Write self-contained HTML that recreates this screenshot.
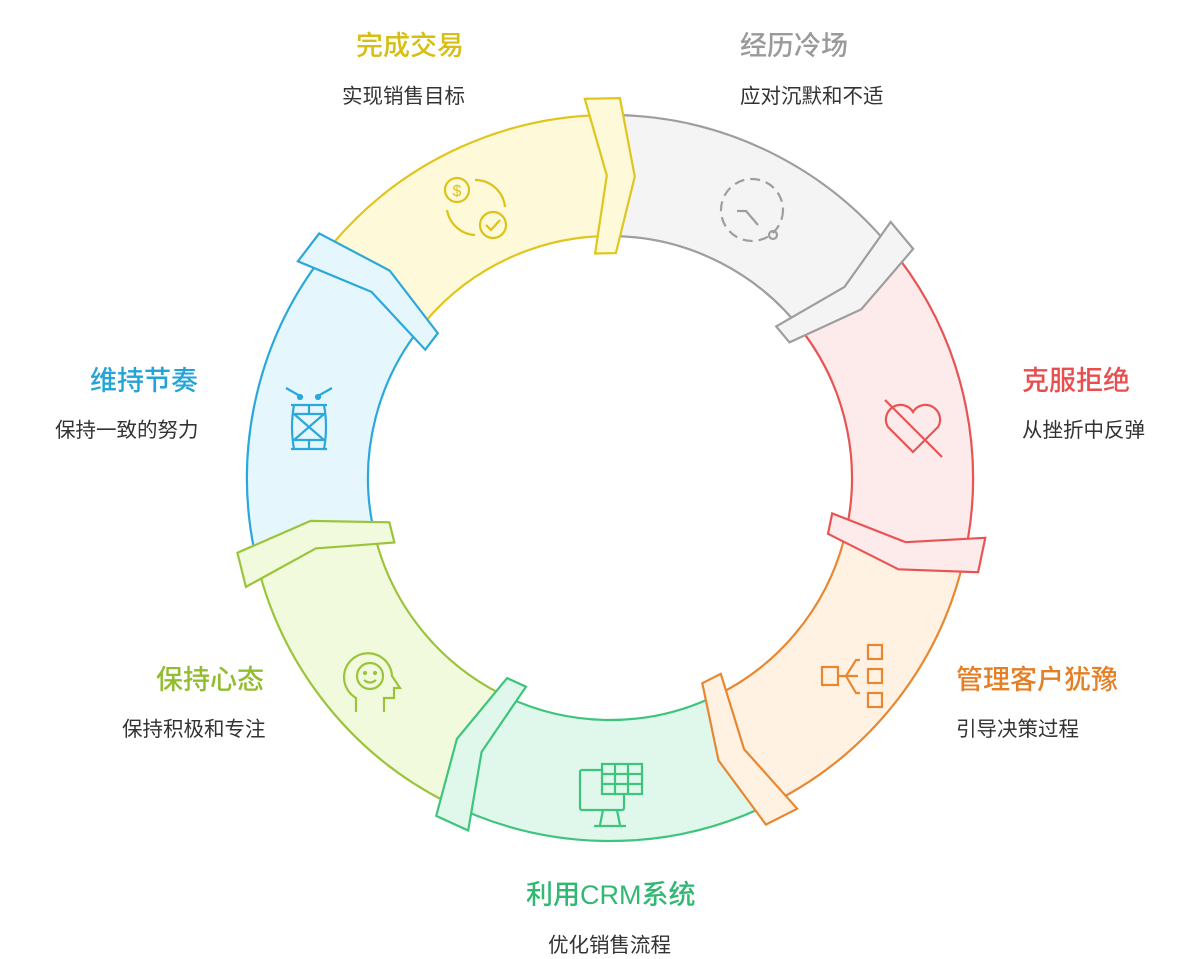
<!DOCTYPE html>
<html><head><meta charset="utf-8">
<style>
body{margin:0;background:#fff;width:1200px;height:959px;overflow:hidden;position:relative;font-family:"Liberation Sans","Noto Sans CJK SC",sans-serif}
.t{position:absolute;font-size:27px;font-weight:500;white-space:nowrap}
.s{position:absolute;font-size:20.5px;color:#333;white-space:nowrap}
svg{position:absolute;left:0;top:0}
</style></head><body>
<svg id="g" width="1200" height="959" viewBox="0 0 1200 959"></svg>
<div class="t" style="left:356px;top:24px;color:#d6bf12">完成交易</div>
<div class="s" style="left:342px;top:79px">实现销售目标</div>
<div class="t" style="left:740px;top:24px;color:#9a9a9a">经历冷场</div>
<div class="s" style="left:740px;top:79px">应对沉默和不适</div>
<div class="t" style="left:1022px;top:359px;color:#e84e4e">克服拒绝</div>
<div class="s" style="left:1022px;top:413px">从挫折中反弹</div>
<div class="t" style="left:956px;top:658px;color:#e57f25">管理客户犹豫</div>
<div class="s" style="left:956px;top:712px">引导决策过程</div>
<div class="t" style="left:526px;top:873px;color:#33b873">利用CRM系统</div>
<div class="s" style="left:548px;top:928px">优化销售流程</div>
<div class="t" style="left:156px;top:658px;color:#93bd30">保持心态</div>
<div class="s" style="left:122px;top:712px">保持积极和专注</div>
<div class="t" style="left:90px;top:359px;color:#23a3d8">维持节奏</div>
<div class="s" style="left:55px;top:413px">保持一致的努力</div>
<script>
var cx=610,cy=478,R=363,r=242;
var segs=[["#f4f4f4","#9e9e9e"],["#fdeaea","#e85454"],["#fff2e3","#e8872f"],["#e0f8ec","#3ec47c"],["#f1fadc","#9bc43c"],["#e6f6fd","#2aa8dc"],["#fef9d9","#e0c51c"]];
var b0=-88.5,step=360/7;
function P(rad,a){a=a*Math.PI/180;return [(cx+rad*Math.cos(a)).toFixed(1),(cy+rad*Math.sin(a)).toFixed(1)];}
var s="";
for(var i=0;i<7;i++){
 var a1=b0+i*step,a2=a1+step;
 var o1=P(R,a1),o2=P(R,a2),i1=P(r,a1),i2=P(r,a2);
 s+='<path d="M'+o1+' A'+R+' '+R+' 0 0 1 '+o2+' L'+i2+' A'+r+' '+r+' 0 0 0 '+i1+' Z" fill="'+segs[i][0]+'" stroke="'+segs[i][1]+'" stroke-width="2.2"/>';
}
for(var i=0;i<7;i++){
 var a=b0+i*step, c=segs[(i+6)%7];
 var d=5.3,bend=3.2,Ro=R+17,Ri=r-17,Rm=(R+r)/2;
 var pts=[P(Ro,a-d),P(Rm,a-d+bend),P(Ri,a-d),P(Ri,a),P(Rm,a+bend),P(Ro,a)];
 s+='<polygon points="'+pts.join(' ')+'" fill="'+c[0]+'" stroke="'+c[1]+'" stroke-width="2.2" stroke-linejoin="miter"/>';
}
s+='<g fill="none" stroke="#dcc21a" stroke-width="2.2"><circle cx="457" cy="190" r="12"/><text x="457" y="196" font-size="16" text-anchor="middle" fill="#dcc21a" stroke="none" font-family="Liberation Sans">$</text><circle cx="493" cy="225" r="13"/><path d="M486 225l5 5 9-10"/><path d="M475 180a30 30 0 0 1 30 27"/><path d="M447 210a30 30 0 0 0 28 25"/></g>';
s+='<g fill="none" stroke="#9e9e9e" stroke-width="2.2"><circle cx="752" cy="210" r="31" stroke-dasharray="10 6"/><path d="M737 211h9l12 14"/><circle cx="773" cy="235" r="4"/></g>';
s+='<g fill="none" stroke="#e85454" stroke-width="2.2"><path d="M913 452l-25-25a13 13 0 0 1 25-15a13 13 0 0 1 25 15z"/><path d="M885 400l57 57"/></g>';
s+='<g fill="none" stroke="#e8872f" stroke-width="2.2"><rect x="822" y="667" width="16" height="18"/><path d="M838 676h20M846 676l10-16h4M846 676l10 17h4"/><rect x="868" y="645" width="14" height="14"/><rect x="868" y="669" width="14" height="14"/><rect x="868" y="693" width="14" height="14"/></g>';
s+='<g fill="none" stroke="#3ec47c" stroke-width="2.2"><rect x="580" y="770" width="44" height="40" rx="2"/><rect x="602" y="764" width="40" height="30" fill="#e0f8ec"/><path d="M602 774h40M602 784h40M615 764v30M628 764v30M603 810l-3 15M617 810l3 15M594 826h32"/></g>';
s+='<g fill="none" stroke="#9bc43c" stroke-width="2.2"><path d="M356 712v-14a24 24 0 1 1 36-22l8 12h-6v10h-10v14"/><circle cx="370" cy="676" r="13"/><circle cx="365" cy="673" r="1" fill="#9bc43c"/><circle cx="375" cy="673" r="1" fill="#9bc43c"/><path d="M364 680q6 5 12 0"/></g>';
s+='<g fill="none" stroke="#2aa8dc" stroke-width="2.2"><path d="M286 388l14 8M332 388l-14 8"/><circle cx="300" cy="397" r="2" fill="#2aa8dc"/><circle cx="318" cy="397" r="2" fill="#2aa8dc"/><path d="M291 405h36M291 449h36"/><path d="M294 405q-4 22 0 44M324 405q4 22 0 44M294 414h30M294 440h30M294 414l30 26M324 414l-30 26M309 405v9M309 440v9"/></g>';
document.getElementById('g').innerHTML=s;
</script>
</body></html>
